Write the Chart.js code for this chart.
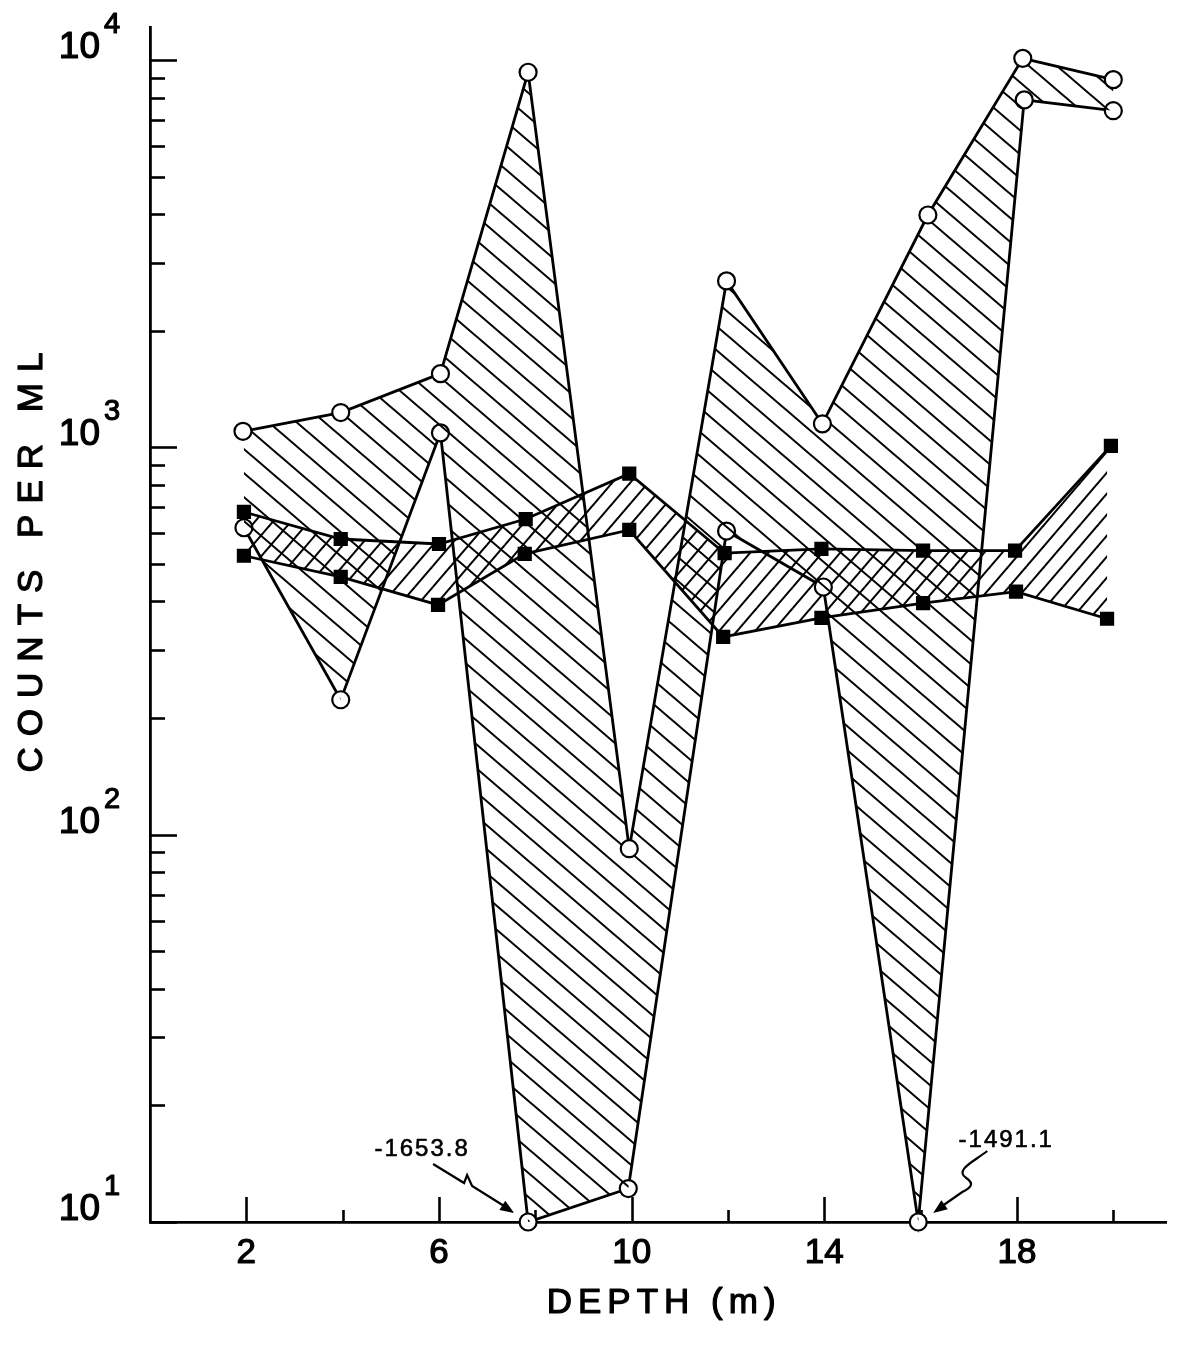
<!DOCTYPE html>
<html>
<head>
<meta charset="utf-8">
<script src="https://cdn.jsdelivr.net/npm/chart.js@4.4.1/dist/chart.umd.min.js"></script>
<style>
  html, body { margin: 0; padding: 0; background: #ffffff; }
  #wrap { width: 1177px; height: 1345px; position: relative; }
</style>
</head>
<body>
<div id="wrap"><canvas id="chart"></canvas></div>
<script>
// Depth (m) and counts per ml, open-circle pair (upper / lower bound)
const circleHighDepth  = [1.93, 3.96, 6.03, 7.85, 9.95, 11.97, 13.96, 16.15, 18.12, 20.0];
const circleHighCounts = [1100, 1230, 1550, 9300, 92, 2690, 1150, 3980, 10100, 8900];
const circleLowDepth   = [1.95, 3.96, 6.03, 7.85, 9.93, 11.97, 13.98, 15.95, 18.15, 20.0];
const circleLowCounts  = [620, 223, 1090, -1653.8, 12.2, 608, 436, -1491.1, 7890, 7400];

// Filled-square pair (upper / lower bound)
const squareHighDepth  = [1.95, 3.96, 6.0, 7.8, 9.95, 11.93, 13.94, 16.05, 17.96, 19.95];
const squareHighCounts = [681, 580, 563, 653, 855, 533, 547, 541, 541, 1009];
const squareLowDepth   = [1.95, 3.96, 5.98, 7.78, 9.95, 11.9, 13.94, 16.05, 17.98, 19.87];
const squareLowCounts  = [525, 463, 392, 531, 612, 324, 363, 396, 424, 361];

// Axis ticks and labels
const yDecades      = [10, 100, 1000, 10000];
const yDecadeExp    = ['1', '2', '3', '4'];
const xTickMarks    = [2, 4, 6, 8, 10, 12, 14, 16, 18, 20];
const xTickLabels   = [2, 6, 10, 14, 18];
const xTitle = 'DEPTH (m)';
const yTitle = 'COUNTS PER ML';

const Y_MIN = 10, Y_MAX = 12170, X_MIN = 0, X_MAX = 21.1;
const INK = '#000000';
const FONT = '"Liberation Sans", Arial, sans-serif';

// Negative counts cannot sit on a log axis: they are drawn on the floor.
const onAxis = v => (v > 0 ? v : Y_MIN);
const pts = (xs, ys) => xs.map((d, i) => ({ x: d, y: onAxis(ys[i]), raw: ys[i] }));

function hatch(w, h, dir, lw) {
  const c = document.createElement('canvas');
  c.width = w; c.height = h;
  const g = c.getContext('2d');
  g.strokeStyle = INK;
  g.lineWidth = lw;
  for (let k = -1; k <= 1; k++) {
    g.beginPath();
    if (dir === 'back') { g.moveTo(k * w - w, -h); g.lineTo(k * w + 2 * w, 2 * h); }
    else { g.moveTo(k * w - w, 2 * h); g.lineTo(k * w + 2 * w, -h); }
    g.stroke();
  }
  return g.createPattern(c, 'repeat');
}
const backHatch = hatch(28, 24, 'back', 2);
const fwdHatch  = hatch(18, 21, 'fwd', 2);

// filled text with a thin outline, for the heavier lettering weight
function ink(ctx, text, x, y, w) {
  ctx.lineWidth = w;
  ctx.lineJoin = 'round';
  ctx.fillText(text, x, y);
  ctx.strokeText(text, x, y);
}

function arrowHead(ctx, fx, fy, tx, ty) {
  const ang = Math.atan2(ty - fy, tx - fx);
  const L = 14, W = 5.5;
  ctx.beginPath();
  ctx.moveTo(tx, ty);
  ctx.lineTo(tx - L * Math.cos(ang) + W * Math.sin(ang), ty - L * Math.sin(ang) - W * Math.cos(ang));
  ctx.lineTo(tx - L * Math.cos(ang) - W * Math.sin(ang), ty - L * Math.sin(ang) + W * Math.cos(ang));
  ctx.closePath();
  ctx.fill();
}

const decor = {
  id: 'decor',
  beforeDatasetsDraw(chart) {
    const { ctx, chartArea: a, scales: { x, y } } = chart;
    ctx.save();
    ctx.strokeStyle = INK;
    ctx.lineWidth = 2.6;
    // inward log ticks on the y axis
    for (let e = 0; e < yDecades.length; e++) {
      for (let m = 1; m <= 9; m++) {
        const v = m * yDecades[e];
        if (v < Y_MIN || v > Y_MAX) continue;
        const py = Math.round(y.getPixelForValue(v)) + 0.5;
        const len = m === 1 ? 27 : 15;
        ctx.beginPath(); ctx.moveTo(a.left, py); ctx.lineTo(a.left + len, py); ctx.stroke();
      }
    }
    // inward ticks on the x axis
    for (const d of xTickMarks) {
      const px = Math.round(x.getPixelForValue(d)) + 0.5;
      const len = xTickLabels.includes(d) ? 25 : 12;
      ctx.beginPath(); ctx.moveTo(px, a.bottom); ctx.lineTo(px, a.bottom - len); ctx.stroke();
    }
    ctx.restore();
  },
  afterDraw(chart) {
    const { ctx, chartArea: a, scales: { x, y } } = chart;
    ctx.save();
    ctx.fillStyle = INK;
    ctx.strokeStyle = INK;

    // y tick labels: 10 with a raised exponent
    yDecades.forEach((v, i) => {
      const py = y.getPixelForValue(v);
      ctx.font = '37px ' + FONT;
      ctx.textAlign = 'right';
      ctx.textBaseline = 'alphabetic';
      ink(ctx, '10', 100, py - 2, 1.2);
      ctx.font = '29px ' + FONT;
      ctx.textAlign = 'left';
      ink(ctx, yDecadeExp[i], 104, py - 27, 1.2);
    });

    // x tick labels
    ctx.font = '35px ' + FONT;
    ctx.textAlign = 'center';
    ctx.textBaseline = 'middle';
    for (const d of xTickLabels) ink(ctx, String(d), x.getPixelForValue(d), a.bottom + 31, 1.2);

    // axis titles
    ctx.font = '35px ' + FONT;
    ctx.letterSpacing = '6px';
    ink(ctx, xTitle, (a.left + a.right) / 2 + 6, a.bottom + 81, 1.2);
    ctx.save();
    ctx.translate(32, 560);
    ctx.rotate(-Math.PI / 2);
    ctx.letterSpacing = '11px';
    ink(ctx, yTitle, 3, 0, 1.2);
    ctx.restore();
    ctx.letterSpacing = '0px';

    // off-scale (negative) values: label and squiggle arrow to the floor marker
    const meta = chart.getDatasetMeta(1);
    const notes = [];
    circleLowCounts.forEach((v, i) => { if (v <= 0) notes.push({ v, el: meta.data[i] }); });
    ctx.font = '24px ' + FONT;
    ctx.letterSpacing = '2px';
    notes.forEach((n, k) => {
      const px = n.el.x, py = n.el.y;
      const label = n.v.toFixed(1);
      ink(ctx, label, k === 0 ? px - 106 : px + 88, k === 0 ? py - 73 : py - 82, 0.6);
      ctx.lineWidth = 2.2;
      ctx.lineJoin = 'miter';
      if (k === 0) {
        ctx.beginPath();
        ctx.moveTo(px - 95, py - 58);
        ctx.lineTo(px - 64, py - 39);
        ctx.lineTo(px - 61, py - 47);
        ctx.lineTo(px - 56, py - 36);
        ctx.lineTo(px - 24, py - 16);
        ctx.stroke();
        arrowHead(ctx, px - 56, py - 36, px - 14, py - 9);
      } else {
        ctx.beginPath();
        ctx.moveTo(px + 69, py - 71);
        ctx.bezierCurveTo(px + 55, py - 60, px + 36, py - 52, px + 48, py - 44);
        ctx.bezierCurveTo(px + 57, py - 38, px + 52, py - 34, px + 44, py - 30);
        ctx.lineTo(px + 24, py - 16);
        ctx.stroke();
        arrowHead(ctx, px + 44, py - 30, px + 15, py - 9);
      }
    });
    ctx.restore();
  }
};

const lineBase = {
  borderColor: INK,
  borderWidth: 2.8,
  tension: 0,
  clip: false,
  pointBorderColor: INK,
  pointBorderWidth: 2.2,
};

new Chart(document.getElementById('chart'), {
  type: 'line',
  data: {
    datasets: [
      { ...lineBase, data: pts(circleHighDepth, circleHighCounts), fill: { target: 1 },
        backgroundColor: backHatch, pointStyle: 'circle', pointRadius: 8.5, pointBackgroundColor: '#ffffff' },
      { ...lineBase, data: pts(circleLowDepth, circleLowCounts), fill: false,
        backgroundColor: '#ffffff', pointStyle: 'circle', pointRadius: 8.5, pointBackgroundColor: '#ffffff' },
      { ...lineBase, data: pts(squareHighDepth, squareHighCounts), fill: { target: 3 },
        backgroundColor: fwdHatch, pointStyle: 'rect', pointRadius: 8.5, pointBackgroundColor: INK },
      { ...lineBase, data: pts(squareLowDepth, squareLowCounts), fill: false,
        backgroundColor: INK, pointStyle: 'rect', pointRadius: 8.5, pointBackgroundColor: INK },
    ]
  },
  options: {
    responsive: true,
    maintainAspectRatio: false,
    animation: false,
    devicePixelRatio: 1,
    layout: { padding: { left: 150, right: 7, top: 27, bottom: 123 } },
    plugins: { legend: { display: false }, tooltip: { enabled: false }, filler: { propagate: false } },
    scales: {
      x: {
        type: 'linear', min: X_MIN, max: X_MAX,
        ticks: { display: false },
        grid: { display: false, drawTicks: false },
        border: { display: true, color: INK, width: 2.8 }
      },
      y: {
        type: 'logarithmic', min: Y_MIN, max: Y_MAX,
        ticks: { display: false },
        grid: { display: false, drawTicks: false },
        border: { display: true, color: INK, width: 2.8 }
      }
    }
  },
  plugins: [decor]
});
</script>
</body>
</html>
